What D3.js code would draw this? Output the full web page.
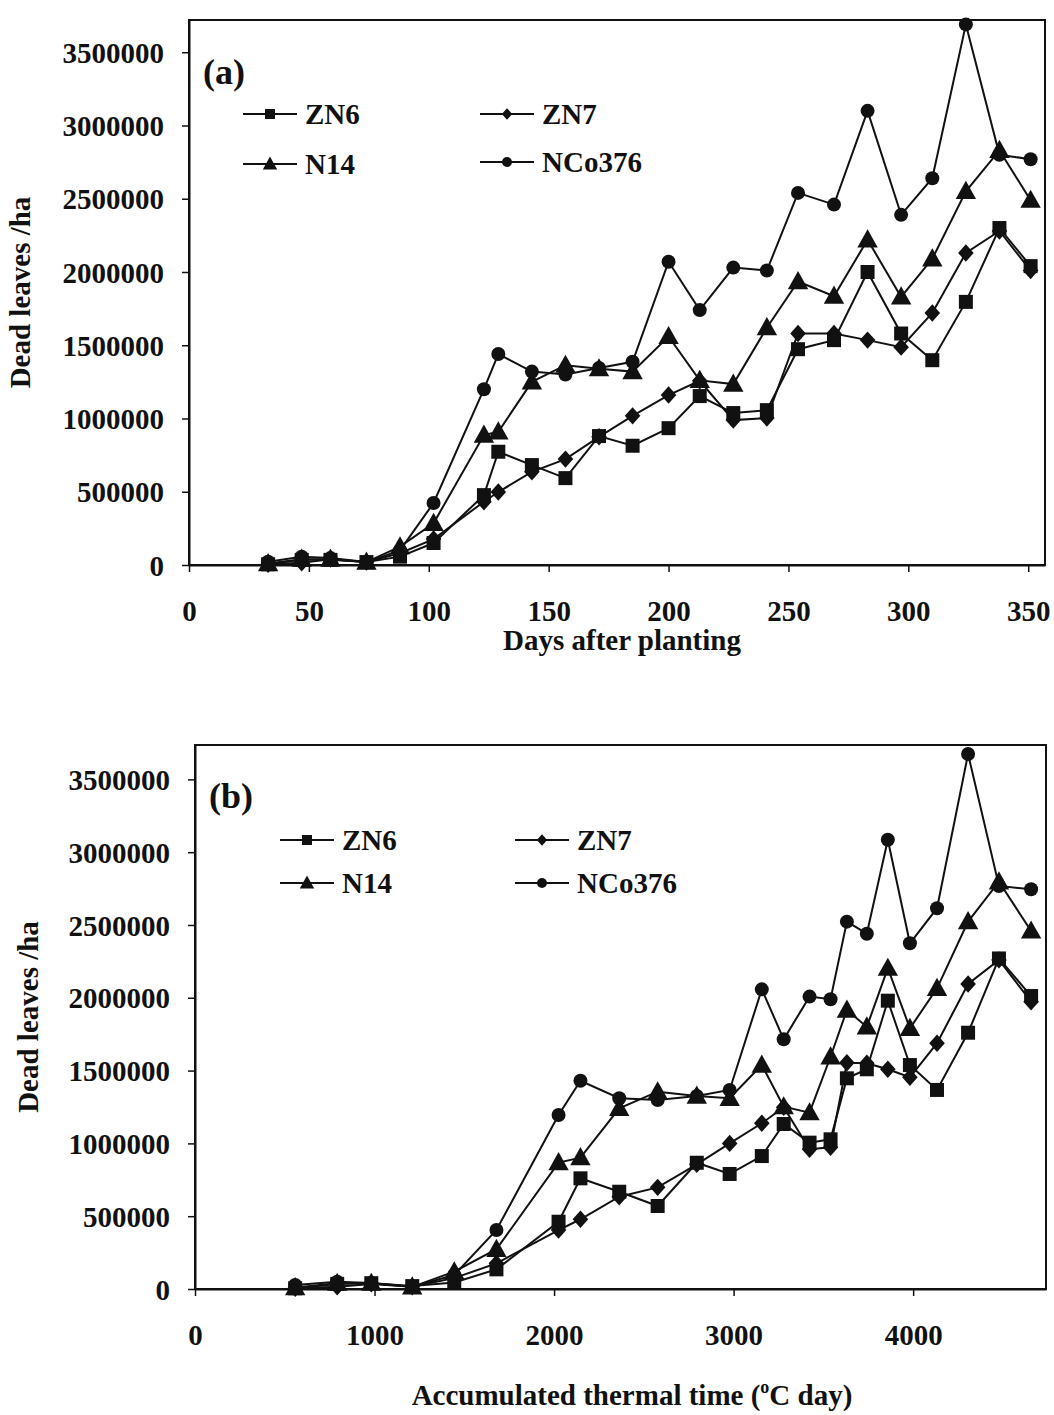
<!DOCTYPE html>
<html>
<head>
<meta charset="utf-8">
<script src="https://cdn.jsdelivr.net/npm/d3@7"></script>
<style>
  html, body { margin: 0; padding: 0; background: #fff; }
  svg { display: block; }
  text { font-family: "Liberation Serif", "Times New Roman", serif; font-weight: bold; fill: #111; }
</style>
</head>
<body>
<svg id="chart" width="1054" height="1415"></svg>
<script>
// ---------------- DATA ----------------
const seriesNames = ["ZN6", "ZN7", "N14", "NCo376"];
const days = [33, 47, 59, 74, 88, 102, 123, 129, 143, 157, 171, 185, 200, 213, 227, 241, 254, 269, 283, 297, 310, 324, 338, 351];
const thermalTime = [558, 792, 982, 1210, 1444, 1679, 2025, 2147, 2363, 2577, 2795, 2978, 3157, 3279, 3423, 3540, 3631, 3742, 3859, 3982, 4133, 4306, 4478, 4657];

const a_ZN6 = [5000, 35000, 35000, 20000, 57000, 150000, 477000, 773000, 682000, 593000, 880000, 814000, 934000, 1153000, 1037000, 1057000, 1473000, 1535000, 2000000, 1580000, 1398000, 1796000, 2300000, 2040000];
const a_ZN7 = [5000, 15000, 40000, 20000, 80000, 177000, 432000, 498000, 636000, 723000, 875000, 1018000, 1160000, 1257000, 989000, 1003000, 1580000, 1580000, 1535000, 1487000, 1720000, 2130000, 2280000, 2010000];
const a_N14 = [10000, 40000, 40000, 20000, 125000, 285000, 887000, 909000, 1250000, 1364000, 1340000, 1320000, 1560000, 1260000, 1235000, 1620000, 1935000, 1835000, 2220000, 1830000, 2090000, 2550000, 2830000, 2490000];
const a_NCo376 = [22000, 57000, 47000, 20000, 100000, 423000, 1200000, 1440000, 1320000, 1300000, 1345000, 1387000, 2070000, 1740000, 2030000, 2010000, 2540000, 2460000, 3100000, 2390000, 2640000, 3690000, 2800000, 2770000];

const b_ZN6 = [5000, 35000, 40000, 20000, 45000, 135000, 462000, 760000, 668000, 570000, 867000, 790000, 913000, 1133000, 1005000, 1028000, 1447000, 1509000, 1980000, 1538000, 1367000, 1760000, 2270000, 2012000];
const b_ZN7 = [5000, 15000, 35000, 15000, 75000, 176000, 405000, 479000, 634000, 698000, 856000, 1000000, 1138000, 1248000, 960000, 973000, 1554000, 1550000, 1509000, 1454000, 1688000, 2095000, 2260000, 1973000];
const b_N14 = [10000, 40000, 40000, 15000, 119000, 273000, 868000, 902000, 1241000, 1355000, 1325000, 1310000, 1538000, 1252000, 1211000, 1595000, 1916000, 1800000, 2203000, 1790000, 2065000, 2523000, 2797000, 2459000];
const b_NCo376 = [27000, 50000, 41000, 16000, 96000, 405000, 1195000, 1430000, 1310000, 1298000, 1325000, 1367000, 2058000, 1715000, 2008000, 1990000, 2523000, 2440000, 3085000, 2374000, 2615000, 3674000, 2768000, 2745000];

const yTicks = [0, 500000, 1000000, 1500000, 2000000, 2500000, 3000000, 3500000];
const xTicksA = [0, 50, 100, 150, 200, 250, 300, 350];
const xTicksB = [0, 1000, 2000, 3000, 4000];

// ---------------- DRAWING ----------------
const svg = d3.select("#chart");

const markerPaths = {
  ZN6: (s) => `M${-s*0.5},${-s*0.5}H${s*0.5}V${s*0.5}H${-s*0.5}Z`,
  ZN7: (s) => `M0,${-s*0.58}L${s*0.52},0L0,${s*0.58}L${-s*0.52},0Z`,
  N14: (s) => `M0,${-s*0.62}L${s*0.6},${s*0.45}L${-s*0.6},${s*0.45}Z`,
  NCo376: (s) => { const r = s*0.5; return `M${r},0A${r},${r} 0 1,1 ${-r},0A${r},${r} 0 1,1 ${r},0Z`; }
};
const markerSize = { ZN6: 14, ZN7: 15, N14: 17, NCo376: 14 };

function panel(cfg) {
  const x = d3.scaleLinear().domain(cfg.xDomain).range([cfg.left, cfg.right]);
  const y = d3.scaleLinear().domain(cfg.yDomain).range([cfg.bottom, cfg.top]);
  const g = svg.append("g");

  // frame
  g.append("rect")
    .attr("x", cfg.left).attr("y", cfg.top)
    .attr("width", cfg.right - cfg.left).attr("height", cfg.bottom - cfg.top)
    .attr("fill", "none").attr("stroke", "#111").attr("stroke-width", 2);

  // y axis
  const yAx = g.append("g").attr("transform", `translate(${cfg.left},0)`)
    .call(d3.axisLeft(y).tickValues(yTicks).tickSize(7).tickSizeOuter(0).tickPadding(18).tickFormat(d3.format("d")));
  yAx.select(".domain").attr("stroke", "#111").attr("stroke-width", 2);
  yAx.selectAll(".tick line").attr("stroke", "#111").attr("stroke-width", 1.5);
  yAx.selectAll(".tick text").attr("font-size", 29).attr("font-family", "Liberation Serif").attr("font-weight", "bold").attr("fill", "#111").attr("dy", "0.35em");

  // x axis
  const xAx = g.append("g").attr("transform", `translate(0,${cfg.bottom})`)
    .call(d3.axisBottom(x).tickValues(cfg.xTicks).tickSize(7).tickSizeOuter(0).tickPadding(28).tickFormat(d3.format("d")));
  xAx.select(".domain").attr("stroke", "#111").attr("stroke-width", 2);
  xAx.selectAll(".tick line").attr("stroke", "#111").attr("stroke-width", 1.5);
  xAx.selectAll(".tick text").attr("font-size", 29).attr("font-family", "Liberation Serif").attr("font-weight", "bold").attr("fill", "#111");

  // series
  const line = d3.line().x((d) => x(d[0])).y((d) => y(d[1]));
  cfg.series.forEach((s) => {
    const pts = cfg.xs.map((xv, i) => [xv, s.values[i]]);
    g.append("path").datum(pts).attr("d", line)
      .attr("fill", "none").attr("stroke", "#111").attr("stroke-width", 2);
    g.selectAll(null).data(pts).enter().append("path")
      .attr("transform", (d) => `translate(${x(d[0])},${y(d[1])})`)
      .attr("d", markerPaths[s.name](markerSize[s.name]))
      .attr("fill", "#111");
  });

  // panel label
  g.append("text").attr("x", cfg.left + 14).attr("y", cfg.labelY)
    .attr("font-size", 36).text(cfg.label);

  // legend
  cfg.legend.forEach((it) => {
    g.append("line").attr("x1", it.x).attr("x2", it.x + 54)
      .attr("y1", it.y).attr("y2", it.y).attr("stroke", "#111").attr("stroke-width", 2);
    g.append("path").attr("transform", `translate(${it.x + 27},${it.y})`)
      .attr("d", markerPaths[it.name](it.name === "N14" ? 12 : 10)).attr("fill", "#111");
    g.append("text").attr("x", it.x + 62).attr("y", it.y + 10)
      .attr("font-size", 29).text(it.name);
  });

  // axis titles
  g.append("text").attr("text-anchor", "middle")
    .attr("transform", `translate(${cfg.yTitleX},${(cfg.top + cfg.bottom) / 2}) rotate(-90)`)
    .attr("font-size", 29).text("Dead leaves /ha");
  cfg.xTitle(g);
}

panel({
  left: 189, right: 1045, top: 20, bottom: 565,
  xDomain: [0, 357], yDomain: [0, 3720000],
  xTicks: xTicksA, xs: days,
  series: [
    { name: "ZN6", values: a_ZN6 },
    { name: "ZN7", values: a_ZN7 },
    { name: "N14", values: a_N14 },
    { name: "NCo376", values: a_NCo376 }
  ],
  label: "(a)", labelY: 84,
  legend: [
    { name: "ZN6", x: 243, y: 114 },
    { name: "ZN7", x: 480, y: 114 },
    { name: "N14", x: 243, y: 164 },
    { name: "NCo376", x: 480, y: 162 }
  ],
  yTitleX: 30,
  xTitle: (g) => g.append("text").attr("x", 622).attr("y", 650).attr("text-anchor", "middle")
    .attr("font-size", 29).text("Days after planting")
});

panel({
  left: 195, right: 1046, top: 745, bottom: 1289,
  xDomain: [0, 4740], yDomain: [0, 3736000],
  xTicks: xTicksB, xs: thermalTime,
  series: [
    { name: "ZN6", values: b_ZN6 },
    { name: "ZN7", values: b_ZN7 },
    { name: "N14", values: b_N14 },
    { name: "NCo376", values: b_NCo376 }
  ],
  label: "(b)", labelY: 808,
  legend: [
    { name: "ZN6", x: 280, y: 840 },
    { name: "ZN7", x: 515, y: 840 },
    { name: "N14", x: 280, y: 883 },
    { name: "NCo376", x: 515, y: 883 }
  ],
  yTitleX: 38,
  xTitle: (g) => {
    const t = g.append("text").attr("x", 632).attr("y", 1405).attr("text-anchor", "middle")
      .attr("font-size", 29);
    t.append("tspan").text("Accumulated thermal time (");
    t.append("tspan").attr("font-size", 18).attr("dy", -12).text("o");
    t.append("tspan").attr("dy", 12).text("C day)");
  }
});
</script>
</body>
</html>
